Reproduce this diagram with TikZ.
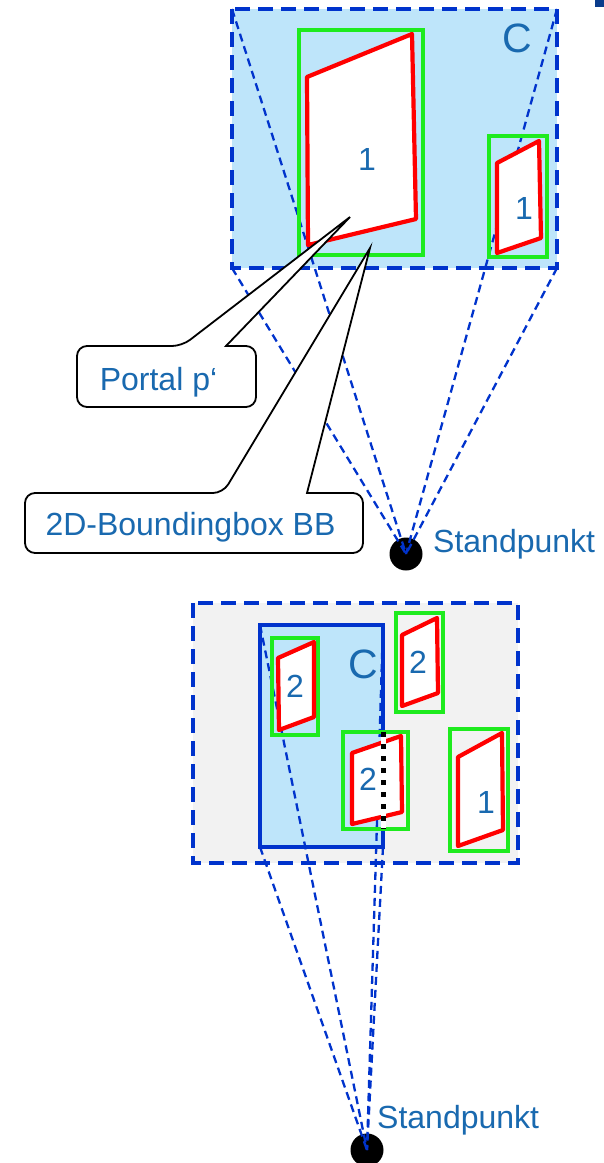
\documentclass[tikz,border=0pt]{standalone}
\usepackage{fontspec}
\setmainfont{Liberation Sans}
\definecolor{vblue}{RGB}{0,51,204}
\definecolor{cfill}{RGB}{190,229,250}
\definecolor{gfill}{RGB}{242,242,242}
\definecolor{bbgreen}{RGB}{30,235,30}
\definecolor{pred}{RGB}{255,0,0}
\definecolor{tblue}{RGB}{25,105,175}
\definecolor{navy}{RGB}{10,60,140}
\tikzset{
  frame/.style={draw=vblue, line width=4.5pt, dash pattern=on 15pt off 8pt},
  cellbox/.style={draw=vblue, line width=4pt, fill=cfill},
  ray/.style={draw=vblue, line width=2.3pt, dash pattern=on 8pt off 5pt},
  bbox/.style={draw=bbgreen, line width=4.2pt},
  portal/.style={draw=pred, line width=4.2pt, fill=white, line join=round},
  lbl/.style={text=tblue, font=\fontsize{32}{36}\selectfont, inner sep=0pt, anchor=base},
  celllbl/.style={text=tblue, font=\fontsize{41}{46}\selectfont, inner sep=0pt, anchor=base},
  eye/.style={circle, fill=black, minimum size=33pt, inner sep=0pt},
  callout/.style={draw=black, line width=1.8pt, fill=white, line join=miter},
}
\begin{document}
\begin{tikzpicture}[x=1pt, y=-1pt]
\useasboundingbox (0,0) rectangle (604,1163);
\fill[navy] (595,0) rectangle (604,7);

% ---------- upper view: cell C seen through portal p' ----------
\coordinate (c1nw) at (232,9);
\coordinate (c1ne) at (557,9);
\coordinate (c1sw) at (232,268);
\coordinate (c1se) at (557,268);
\draw[frame, fill=cfill] (c1nw) rectangle (c1se);
\node[eye] (eye1) at (406,554) {};
\foreach \c in {c1nw,c1ne,c1sw,c1se}
  \draw[ray] (\c) -- (eye1.center);

\draw[bbox] (299,30) rectangle (423,255);
\draw[bbox] (489,136) rectangle (547,257);
\draw[portal] (307,77) -- (412,34) -- (416,219) -- (308,245) -- cycle;
\draw[portal] (497,163) -- (539,141) -- (541,238) -- (497,253) -- cycle;

\node[lbl] (p1a) at (367,170) {1};
\node[lbl] (p1b) at (524,219) {1};
\node[celllbl] (cname1) at (517.5,52) {C};

% callouts
\draw[callout] (256,376) [rounded corners=10pt] -- (256,407) -- (77,407) -- (77,346) -- (182,346)
  [sharp corners] -- (350,217) -- (226,346) [rounded corners=10pt] -- (256,346) -- cycle;
\node[lbl] (portaltxt) at (158.5,390) {Portal p‘};
\draw[callout] (363,523) [rounded corners=10pt] -- (363,553) -- (25,553) -- (25,493) -- (223,493)
  [sharp corners] -- (370,248) -- (307,493) [rounded corners=10pt] -- (363,493) -- cycle;
\node[lbl] (bbtxt) at (190.5,535) {2D-Boundingbox BB};
\node[lbl, anchor=base west] (sp1) at (433,552) {Standpunkt};

% ---------- lower view: cell C inside the visible region ----------
\draw[frame, fill=gfill] (193,603) rectangle (518,863);
\coordinate (c2nw) at (260,625);
\coordinate (c2ne) at (383,625);
\coordinate (c2sw) at (260,847);
\coordinate (c2se) at (383,847);
\draw[cellbox] (c2nw) rectangle (c2se);
\node[eye] (eye2) at (367,1150) {};
\foreach \c in {c2nw,c2ne,c2sw,c2se}
  \draw[ray] (\c) -- (eye2.center);

\draw[bbox] (272,638) rectangle (318,735);
\draw[bbox] (396,613) rectangle (443,712);
\draw[bbox] (343,732) rectangle (408,829);
\draw[bbox] (450,729) rectangle (508,851);
\draw[portal] (278,658) -- (314,642) -- (314,717) -- (279,730) -- cycle;
\draw[portal] (402,635) -- (437,618) -- (438,693) -- (402,706) -- cycle;
\draw[portal] (352,753) -- (401,736) -- (402,812) -- (352,824) -- cycle;
\draw[portal] (458,757) -- (502,733) -- (503,830) -- (458,846) -- cycle;

% clipped edge of C behind the portal
\draw[white, line width=5pt] (383,732) -- (383,829);
\draw[black, line width=5pt, dash pattern=on 5pt off 7pt] (383,732) -- (383,829);

\node[lbl] (q2a) at (295,697) {2};
\node[lbl] (q2b) at (418,673) {2};
\node[lbl] (q2c) at (368,790) {2};
\node[lbl] (q1d) at (486,813) {1};
\node[celllbl] (cname2) at (363.5,678) {C};
\node[lbl, anchor=base west] (sp2) at (377,1128) {Standpunkt};
\end{tikzpicture}
\end{document}
